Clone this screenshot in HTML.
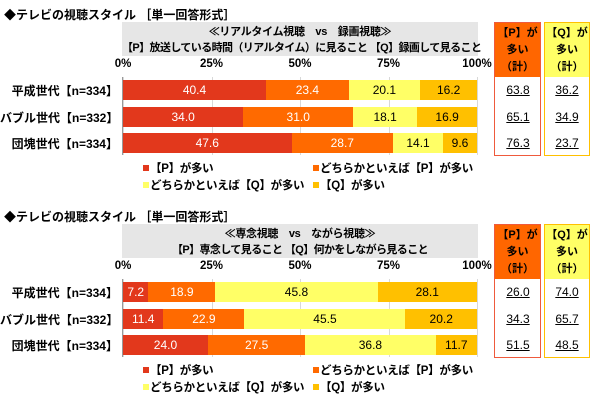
<!DOCTYPE html>
<html><head><meta charset="utf-8">
<style>
body{margin:0;width:600px;height:408px;background:#fff;font-family:"Liberation Sans","Noto Sans CJK JP",sans-serif;position:relative;overflow:hidden}
.a{position:absolute;white-space:nowrap}
.t{font-size:12px;font-weight:bold;color:#000}
</style></head><body>
<div id="root"></div>
<script>
const groups=["平成世代【n=334】","バブル世代【n=332】","団塊世代【n=334】"];
const ticks=["0%","25%","50%","75%","100%"];
const colors=["#e2381c","#ff6a00","#ffff66","#ffc000"];
const legendLabels=["【P】が多い","どちらかといえば【P】が多い","どちらかといえば【Q】が多い","【Q】が多い"];
const titles1=["≪リアルタイム視聴　vs　録画視聴≫","【P】放送している時間（リアルタイム）に見ること 【Q】録画して見ること"];
const titles2=["≪専念視聴　vs　ながら視聴≫","【P】専念して見ること 【Q】何かをしながら見ること"];
const s1_p=[40.4,34.0,47.6];
const s1_pp=[23.4,31.0,28.7];
const s1_qq=[20.1,18.1,14.1];
const s1_q=[16.2,16.9,9.6];
const s1_psum=["63.8","65.1","76.3"];
const s1_qsum=["36.2","34.9","23.7"];
const s2_p=[7.2,11.4,24.0];
const s2_pp=[18.9,22.9,27.5];
const s2_qq=[45.8,45.5,36.8];
const s2_q=[28.1,20.2,11.7];
const s2_psum=["26.0","34.3","51.5"];
const s2_qsum=["74.0","65.7","48.5"];

const root=document.getElementById('root');
function mk(parent,css,text,name,cls){
  const d=document.createElement('div');
  d.className='a'+(cls?' '+cls:'');
  d.style.cssText=css;
  if(text!==undefined)d.textContent=text;
  
  
  parent.appendChild(d);return d;
}
const X0=123,X1=477;
function xs(v){return X0+(X1-X0)*v/100;}
function panel(oy,titles,series,psum,qsum,idx){
  const p=mk(root,`left:0;top:${oy}px;width:600px;height:200px`,undefined,'chart-panel-'+idx);
  mk(p,'left:4px;top:6px;font-size:12px;font-weight:bold','◆テレビの視聴スタイル ［単一回答形式］','chart-title','t');
  mk(p,'left:122px;top:22px;width:356px;height:34px;background:#e6e6e6',undefined,'question-header-box');
  mk(p,'left:122px;top:23px;width:356px;text-align:center;font-size:11px;font-weight:bold;letter-spacing:-0.3px',titles[0],'question-title');
  mk(p,'left:122px;top:39px;width:356px;text-align:center;font-size:11px;font-weight:bold;letter-spacing:-0.6px',titles[1],'question-subtitle');
  ticks.forEach((t,i)=>{
    const x=xs(i*25);
    mk(p,`left:${x-25}px;top:58px;width:50px;text-align:center;font-size:11.5px;font-weight:bold`,t,'x-tick-label');
    mk(p,`left:${x}px;top:77px;width:1px;height:78px;background:#d8d8d8`,undefined,'gridline');
  });
  mk(p,'left:122px;top:77px;width:1px;height:78px;background:#999',undefined,'y-axis');
  const rowsY=[80,107,133];
  groups.forEach((g,r)=>{
    const y=rowsY[r];
    mk(p,`left:0;top:${y+2}px;width:118px;text-align:right;font-size:12px;font-weight:bold`,g,'row-label');
    let acc=0;
    series.forEach((s,k)=>{
      const v=s[r];
      mk(p,`left:${xs(acc)}px;top:${y}px;width:${xs(acc+v)-xs(acc)}px;height:20px;background:${colors[k]};color:${k<2?'#fff':'#000'};font-size:12px;text-align:center;line-height:20px`,v.toFixed(1),'bar-segment');
      acc+=v;
    });
    mk(p,`left:495px;top:${y+3}px;width:46px;text-align:center;font-size:12px;text-decoration:underline`,psum[r],'p-total-value');
    mk(p,`left:545px;top:${y+3}px;width:44px;text-align:center;font-size:12px;text-decoration:underline`,qsum[r],'q-total-value');
  });
  mk(p,'left:494px;top:22px;width:47px;height:134px;border:1.5px solid #ef5a3c;box-sizing:border-box',undefined,'p-total-box');
  mk(p,'left:495px;top:23px;width:45px;height:54px;background:#ff6600;font-size:11px;font-weight:bold;text-align:center;line-height:17px;padding-top:2px;box-sizing:border-box;white-space:pre','【P】が\n多い\n（計）','p-total-header');
  mk(p,'left:544px;top:22px;width:46px;height:134px;border:1.5px solid #ffc000;box-sizing:border-box',undefined,'q-total-box');
  mk(p,'left:545px;top:23px;width:44px;height:54px;background:#ffff66;font-size:11px;font-weight:bold;text-align:center;line-height:17px;padding-top:2px;box-sizing:border-box;white-space:pre','【Q】が\n多い\n（計）','q-total-header');
  const lp=[[143,160],[313,160],[143,177],[313,177]];
  legendLabels.forEach((l,k)=>{
    mk(p,`left:${lp[k][0]}px;top:${lp[k][1]+5}px;width:6px;height:6px;background:${colors[k]}`,undefined,'legend-marker');
    mk(p,`left:${lp[k][0]+7}px;top:${lp[k][1]}px;font-size:11.5px;font-weight:bold;letter-spacing:-0.3px`,l,'legend-entry');
  });
}
panel(0,titles1,[s1_p,s1_pp,s1_qq,s1_q],s1_psum,s1_qsum,1);
panel(202,titles2,[s2_p,s2_pp,s2_qq,s2_q],s2_psum,s2_qsum,2);
</script>
</body></html>
